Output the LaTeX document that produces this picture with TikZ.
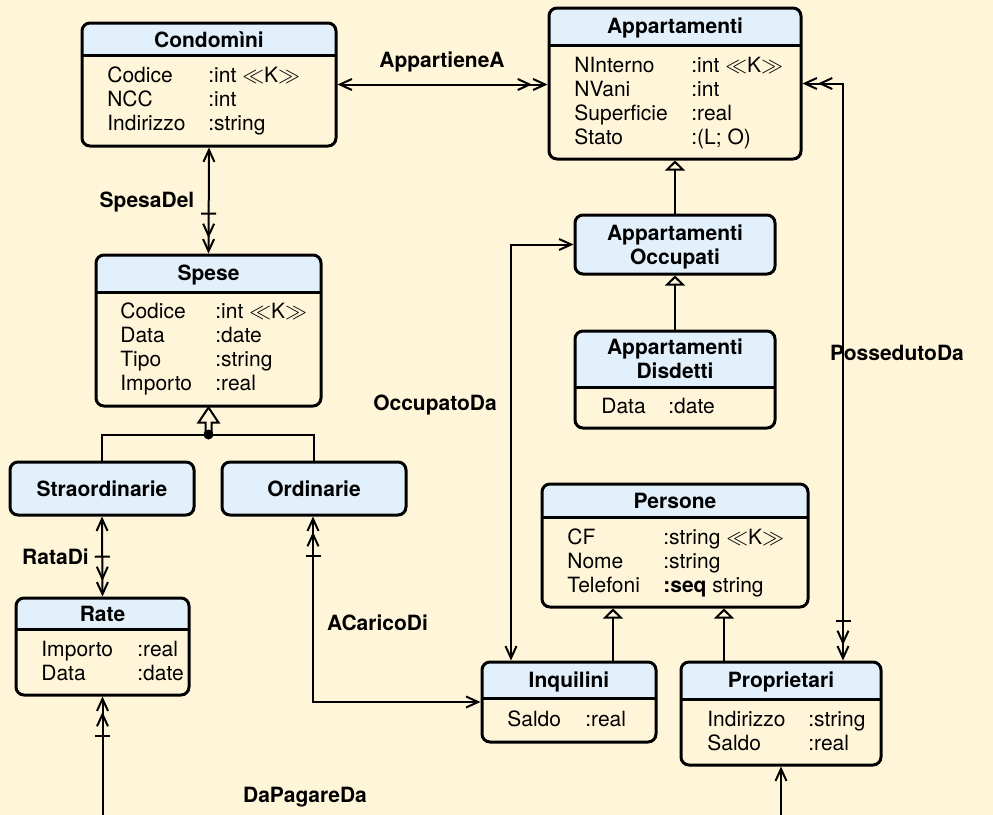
\documentclass[tikz,border=0pt]{standalone}
\usepackage{fontspec}
\setmainfont{TeX Gyre Heros}
\usetikzlibrary{arrows.meta}
\definecolor{crema}{RGB}{255,246,218}
\definecolor{azzurro}{RGB}{225,240,251}

\begin{document}
\begin{tikzpicture}[x=0.5pt,y=-0.5pt,font=\fontsize{10.5}{12}\selectfont,
  conn/.style={line width=1pt},
  class node/.style={draw,line width=1.5pt,rounded corners=4pt,fill=crema,inner sep=0pt,
    path picture={\fill[azzurro,sharp corners] (path picture bounding box.north west)
        rectangle ([yshift=-#1]path picture bounding box.north east);
      \draw[line width=1.5pt,sharp corners] ([yshift=-#1]path picture bounding box.north west)
        -- ([yshift=-#1]path picture bounding box.north east);}},
  head node/.style={draw,line width=1.5pt,rounded corners=4pt,fill=azzurro,inner sep=0pt},
  title node/.style={font=\fontsize{10.5}{12}\selectfont\bfseries,anchor=base,inner sep=0pt},
  attr node/.style={anchor=base west,inner sep=0pt},
  label node/.style={font=\fontsize{10.5}{12}\selectfont\bfseries,anchor=base,inner sep=0pt},
  gen/.style={conn,-{Triangle[open,length=5pt,width=10pt]}},
  one/.tip={Straight Barb[length=6pt,width=5.5pt]},
  many/.tip={Straight Barb[length=6pt,width=5.5pt,sep=0pt] Straight Barb[length=6pt,width=5.5pt,sep=0pt]},
  tick many/.tip={Bar[width=7.5pt,sep=4pt] Straight Barb[length=6pt,width=5.5pt,sep=0pt]
    Straight Barb[length=6pt,width=5.5pt,sep=0pt]}]
  \fill[crema] (0,0) rectangle (993,815);
  \useasboundingbox (0,0) rectangle (993,815);

  % classi
  \node[class node=16pt,minimum width=127pt,minimum height=61.5pt] (cond) at (209,84.5) {};
  \node[title node] (condT) at (209,47) {Condomìni};
  \node[attr node] (condA) at (107,82) {\begin{tabular}[t]{@{}p{50.5pt}@{}l@{}}
    Codice & :int $\ll$K$\gg$\\ NCC & :int\\ Indirizzo & :string\end{tabular}};

  \node[class node=18.5pt,minimum width=126pt,minimum height=75.5pt] (app) at (675,83.5) {};
  \node[title node] (appT) at (675,33) {Appartamenti};
  \node[attr node] (appA) at (574,72) {\begin{tabular}[t]{@{}p{58.5pt}@{}l@{}}
    NInterno & :int $\ll$K$\gg$\\ NVani & :int\\ Superficie & :real\\ Stato & :(L; O)\end{tabular}};

  \node[class node=18.5pt,minimum width=112.5pt,minimum height=75.5pt] (spese) at (208.5,330.5) {};
  \node[title node] (speseT) at (208.5,280) {Spese};
  \node[attr node] (speseA) at (120,318) {\begin{tabular}[t]{@{}p{47.5pt}@{}l@{}}
    Codice & :int $\ll$K$\gg$\\ Data & :date\\ Tipo & :string\\ Importo & :real\end{tabular}};

  \node[head node,minimum width=92pt,minimum height=26.5pt] (str) at (102,488.5) {};
  \node[title node] (strT) at (102,496) {Straordinarie};
  \node[head node,minimum width=92pt,minimum height=26.5pt] (ord) at (314,488.5) {};
  \node[title node] (ordT) at (314,496) {Ordinarie};

  \node[class node=15.5pt,minimum width=86.5pt,minimum height=48.5pt] (rate) at (102.5,646.5) {};
  \node[title node] (rateT) at (102.5,621) {Rate};
  \node[attr node] (rateA) at (41,656) {\begin{tabular}[t]{@{}p{48pt}@{}l@{}}
    Importo & :real\\ Data & :date\end{tabular}};

  \node[head node,minimum width=100pt,minimum height=29.5pt] (occ) at (675,244.5) {};
  \node[title node] (occT) at (675,240) {\begin{tabular}[t]{@{}c@{}}Appartamenti\\ Occupati\end{tabular}};

  \node[class node=28pt,minimum width=100pt,minimum height=48.5pt] (dis) at (675,379.5) {};
  \node[title node] (disT) at (675,354) {\begin{tabular}[t]{@{}c@{}}Appartamenti\\ Disdetti\end{tabular}};
  \node[attr node] (disA) at (601,413) {\begin{tabular}[t]{@{}p{33.5pt}@{}l@{}}
    Data & :date\end{tabular}};

  \node[class node=16.5pt,minimum width=133pt,minimum height=61.5pt] (per) at (675,545.5) {};
  \node[title node] (perT) at (675,508) {Persone};
  \node[attr node] (perA) at (567,544) {\begin{tabular}[t]{@{}p{48pt}@{}l@{}}
    CF & :string $\ll$K$\gg$\\ Nome & :string\\ Telefoni & \textbf{:seq} string\end{tabular}};

  \node[class node=18pt,minimum width=87pt,minimum height=40pt] (inq) at (569,702) {};
  \node[title node] (inqT) at (569,687) {Inquilini};
  \node[attr node] (inqA) at (507,726) {\begin{tabular}[t]{@{}p{39pt}@{}l@{}}
    Saldo & :real\end{tabular}};

  \node[class node=18.5pt,minimum width=100pt,minimum height=51.5pt] (prop) at (781,713.5) {};
  \node[title node] (propT) at (781,687) {Proprietari};
  \node[attr node] (propA) at (707,726) {\begin{tabular}[t]{@{}p{50.5pt}@{}l@{}}
    Indirizzo & :string\\ Saldo & :real\end{tabular}};

  % gerarchie
  \draw[gen] (occ.north) -- (app.south);
  \draw[gen] (dis.north) -- (occ.south);
  \coordinate (inqUp) at ([xshift=22pt]inq.north);
  \coordinate (propUp) at ([xshift=-28.5pt]prop.north);
  \draw[gen] (inqUp) -- (inqUp |- per.south);
  \draw[gen] (propUp) -- (propUp |- per.south);
  \coordinate (gd) at ([yshift=-13.5pt]spese.south);
  \draw[conn] (str.north) |- (gd) -| (ord.north);
  \draw[conn,fill=crema,line join=miter] (gd) ++(-3,0) -- ++(0,-12) -- ++(-7,0)
    -- (spese.south) -- ++(10,15) -- ++(-7,0) -- ++(0,12) -- cycle;
  \fill (gd) circle[radius=2.5pt];

  % associazioni
  \draw[conn,{one}-{many}] (cond.east) -- (cond.east -| app.west);
  \draw[conn,{many}-{tick many}] (app.east) -| ([xshift=31pt]prop.north);
  \draw[conn,{one}-{tick many}] (cond.south) -- (spese.north);
  \draw[conn,{one}-{tick many}] (str.south) -- (rate.north);
  \draw[conn,{one}-{tick many}] (inq.west) -| ([xshift=-0.5pt]ord.south);
  \draw[conn,{one}-{one}] ([xshift=-29pt]inq.north) |- (occ.west);
  \coordinate (pagA) at (102.5,815);
  \coordinate (pagB) at (781,815);
  \draw[conn,-{tick many}] (pagA) -- (rate.south);
  \draw[conn,-{one}] (pagB) -- (prop.south);

  \node[label node] (lAppartiene) at (442,67) {AppartieneA};
  \node[label node] (lSpesa) at (147,207) {SpesaDel};
  \node[label node] (lRata) at (55.5,564) {RataDi};
  \node[label node] (lCarico) at (377.5,630) {ACaricoDi};
  \node[label node] (lOccupato) at (435,410) {OccupatoDa};
  \node[label node] (lPosseduto) at (897,360) {PossedutoDa};
  \node[label node] (lPagare) at (305,802) {DaPagareDa};
\end{tikzpicture}
\end{document}
